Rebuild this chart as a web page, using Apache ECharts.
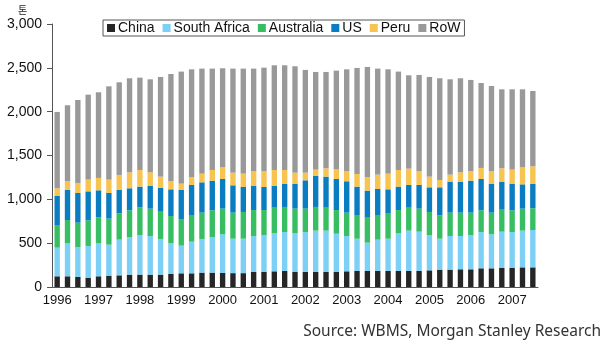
<!DOCTYPE html>
<html>
<head>
<meta charset="utf-8">
<script src="https://cdn.jsdelivr.net/npm/echarts@6/dist/echarts.min.js"></script>
<style>
  html, body { margin: 0; padding: 0; background: #ffffff; }
  #chart { width: 604px; height: 348px; }
</style>
</head>
<body>
<div id="chart"></div>
<script>
// Quarterly zinc mine output by country, in tonnes ('000), 1996 Q1 – 2007 Q3
const years = ['1996', '1997', '1998', '1999', '2000', '2001', '2002', '2003', '2004', '2005', '2006', '2007'];
const quartersShown = 47;

const china = [122, 122, 114, 106, 122, 129, 133, 141, 141, 141, 141, 148, 156, 156, 164, 164,
  160, 158, 158, 171, 171, 179, 183, 175, 173, 171, 171, 171, 179, 183, 183, 183,
  183, 183, 183, 183, 190, 198, 198, 202, 202, 213, 213, 217, 217, 224, 224];
const southAfrica = [327, 376, 342, 362, 376, 354, 407, 426, 452, 441, 407, 350, 316, 361, 384, 406,
  441, 393, 393, 411, 422, 433, 444, 437, 454, 472, 472, 437, 403, 368, 323, 357,
  368, 429, 460, 448, 403, 353, 384, 380, 391, 414, 388, 414, 410, 419, 426];
const australia = [258, 266, 278, 293, 297, 297, 300, 308, 316, 312, 311, 312, 304, 304, 300, 305,
  293, 297, 305, 296, 285, 293, 286, 282, 267, 270, 262, 270, 266, 270, 285, 281,
  286, 266, 262, 263, 263, 267, 266, 266, 255, 248, 247, 251, 248, 251, 248];
const us = [335, 343, 338, 330, 308, 292, 270, 251, 236, 258, 274, 304, 334, 343, 346, 338,
  338, 312, 285, 274, 263, 251, 266, 285, 323, 353, 354, 354, 358, 324, 308, 297,
  277, 267, 259, 270, 281, 319, 354, 354, 365, 357, 331, 316, 304, 277, 281];
const peru = [84, 102, 115, 134, 141, 153, 168, 182, 190, 156, 126, 92, 69, 91, 99, 122,
  133, 144, 152, 168, 179, 179, 156, 125, 87, 73, 95, 110, 117, 144, 156, 164,
  179, 190, 186, 156, 122, 84, 80, 106, 110, 126, 144, 156, 160, 194, 198];
const row = [871, 864, 946, 969, 977, 1064, 1057, 1073, 1053, 1061, 1137, 1224, 1278, 1228, 1198, 1156,
  1130, 1187, 1198, 1171, 1182, 1194, 1194, 1214, 1172, 1114, 1099, 1126, 1160, 1210, 1255, 1209,
  1190, 1122, 1065, 1099, 1137, 1160, 1087, 1073, 1039, 969, 970, 901, 916, 890, 859];

const seriesNames = ['China', 'South Africa', 'Australia', 'US', 'Peru', 'RoW'];
const seriesColors = ['#262626', '#7ccff5', '#38be62', '#0a7cc1', '#f6c44f', '#999999'];
const seriesData = [china, southAfrica, australia, us, peru, row];

const yTicks = [0, 500, 1000, 1500, 2000, 2500, 3000];

// one category per quarter, e.g. "1996 Q1"
const categories = [];
years.forEach(y => { for (let q = 1; q <= 4; q++) categories.push(y + ' Q' + q); });
categories.length = quartersShown;

const chart = echarts.init(document.getElementById('chart'), null, { renderer: 'canvas' });

chart.setOption({
  animation: false,
  backgroundColor: '#ffffff',
  textStyle: { fontFamily: 'Arial, "Liberation Sans", sans-serif' },
  grid: { left: 52, right: 66, top: 24, bottom: 61, containLabel: false },
  legend: {
    data: seriesNames,
    left: 103,
    top: 20,
    itemWidth: 8,
    itemHeight: 8,
    itemGap: 8,
    padding: [1, 4],
    borderColor: '#555555',
    borderWidth: 1,
    backgroundColor: '#ffffff',
    icon: 'rect',
    textStyle: { fontSize: 14, color: '#111111', padding: [0, 0, 0, -2] }
  },
  xAxis: {
    type: 'category',
    data: categories,
    boundaryGap: true,
    axisLine: { lineStyle: { color: '#555555', width: 1 } },
    axisTick: { interval: 3, length: 4, lineStyle: { color: '#555555' } },
    axisLabel: {
      interval: 3,
      margin: 7,
      fontSize: 13,
      color: '#111111',
      formatter: v => v.slice(0, 4)
    },
    splitLine: { show: false }
  },
  yAxis: {
    type: 'value',
    min: yTicks[0],
    max: yTicks[yTicks.length - 1],
    interval: 500,
    axisLine: { show: true, lineStyle: { color: '#555555', width: 1 } },
    axisTick: { show: true, length: 5, lineStyle: { color: '#555555' } },
    axisLabel: {
      margin: 10,
      fontSize: 14,
      color: '#111111',
      formatter: v => v.toLocaleString('en-US')
    },
    splitLine: { show: false }
  },
  series: seriesNames.map((name, i) => ({
    name,
    type: 'bar',
    stack: 'output',
    data: seriesData[i],
    barWidth: '52%',
    itemStyle: { color: seriesColors[i] }
  })),
  graphic: [
    {
      type: 'text',
      left: 18,
      top: 5,
      style: { text: '톤', font: '10px "Noto Sans CJK KR"', fill: '#222222' }
    },
    {
      type: 'text',
      right: 3,
      top: 324,
      style: {
        text: 'Source: WBMS, Morgan Stanley Research',
        font: '15.5px "Noto Sans", sans-serif',
        fill: '#333333'
      }
    }
  ]
});
</script>
</body>
</html>
